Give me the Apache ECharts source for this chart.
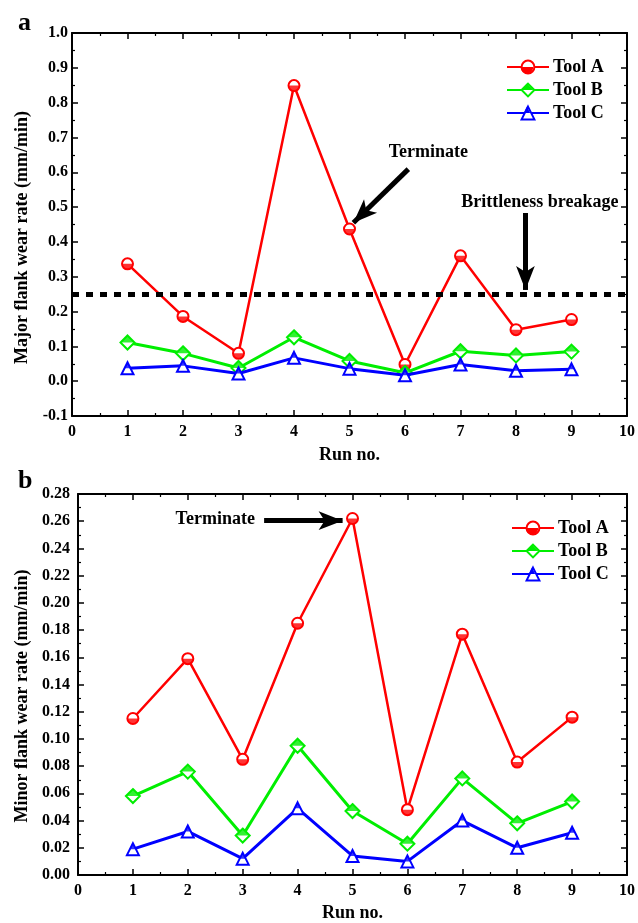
<!DOCTYPE html>
<html><head><meta charset="utf-8">
<script src="https://cdn.jsdelivr.net/npm/echarts@6/dist/echarts.min.js"></script>
<style>html,body{margin:0;padding:0;background:#fff}#c{width:638px;height:923px}</style>
</head><body><div id="c"></div>
<script>
// ---------- data ----------
const runs = [1, 2, 3, 4, 5, 6, 7, 8, 9];
const toolNames = ['Tool A', 'Tool B', 'Tool C'];
const majorA = [0.337, 0.186, 0.080, 0.849, 0.437, 0.048, 0.360, 0.148, 0.177];
const majorB = [0.111, 0.080, 0.038, 0.126, 0.058, 0.024, 0.086, 0.074, 0.085];
const majorC = [0.037, 0.044, 0.022, 0.067, 0.036, 0.017, 0.048, 0.030, 0.034];
const minorA = [0.115, 0.159, 0.085, 0.185, 0.262, 0.048, 0.177, 0.083, 0.116];
const minorB = [0.058, 0.076, 0.029, 0.095, 0.047, 0.023, 0.071, 0.038, 0.054];
const minorC = [0.019, 0.032, 0.012, 0.049, 0.014, 0.010, 0.040, 0.020, 0.031];
const brittleLimit = 0.254;
const panelLabels = ['a', 'b'];
const xAxisName = 'Run no.';
const yAxisNames = ['Major flank wear rate (mm/min)', 'Minor flank wear rate (mm/min)'];

// ---------- style ----------
const FONT = 'Liberation Serif';
const colors = ['#ff0000', '#00ee00', '#0000ff'];
const emptySymbols = ['emptyCircle', 'emptyDiamond', 'emptyTriangle'];
const fillSymbols = [
  'path://M0,10A10,10,0,0,0,20,10Z M10,0L10,0',
  'path://M0,10L10,0L20,10Z M10,20L10,20',
  'path://M10,0L15,10L5,10Z M0,20L20,20'
];
const symSizes = [11, 14, 12];
const lineWidths = [2.5, 3, 3];

const grids = [
  { left: 72, right: 11, top: 33, height: 383 },
  { left: 78, right: 4, top: 494, height: 383 }
];
const yCfg = [
  { min: -0.1, max: 1.0, interval: 0.1, dec: 1, labelMargin: 4, nameGap: 38, namePad: 26 },
  { min: 0, max: 0.28, interval: 0.02, dec: 2, labelMargin: 8, nameGap: 45, namePad: 23 }
];

const xAxes = [], yAxes = [], series = [];
const axisLine = { show: true, onZero: false, lineStyle: { color: '#000', width: 2 } };
const tick = { show: true, inside: true, length: 6, lineStyle: { color: '#000', width: 1.5 } };
const minor = { show: true, splitNumber: 2, length: 3, lineStyle: { color: '#000', width: 1.2 } };

[0, 1].forEach(g => {
  const yc = yCfg[g];
  xAxes.push({
    type: 'value', gridIndex: g, position: 'bottom', min: 0, max: 10, interval: 1,
    axisLine, axisTick: tick, minorTick: minor, splitLine: { show: false },
    axisLabel: { margin: 8, color: '#000', fontFamily: FONT, fontWeight: 'bold', fontSize: 16 },
    name: xAxisName, nameLocation: 'middle', nameGap: g === 0 ? 30 : 29,
    nameTextStyle: { color: '#000', fontFamily: FONT, fontWeight: 'bold', fontSize: 18 }
  });
  xAxes.push({
    type: 'value', gridIndex: g, position: 'top', min: 0, max: 10, interval: 1,
    axisLine, axisTick: tick, minorTick: minor, splitLine: { show: false }, axisLabel: { show: false }
  });
  yAxes.push({
    type: 'value', gridIndex: g, position: 'left', min: yc.min, max: yc.max, interval: yc.interval,
    axisLine, axisTick: tick, minorTick: minor, splitLine: { show: false },
    axisLabel: { margin: yc.labelMargin, color: '#000', fontFamily: FONT, fontWeight: 'bold', fontSize: 16,
      formatter: v => v.toFixed(yc.dec) },
    name: yAxisNames[g], nameLocation: 'middle', nameGap: yc.nameGap,
    nameTextStyle: { color: '#000', fontFamily: FONT, fontWeight: 'bold', fontSize: 18, padding: [0, yc.namePad, 0, 0] }
  });
  yAxes.push({
    type: 'value', gridIndex: g, position: 'right', min: yc.min, max: yc.max, interval: yc.interval,
    axisLine, axisTick: tick, minorTick: minor, splitLine: { show: false }, axisLabel: { show: false }
  });
});

const panelData = [[majorA, majorB, majorC], [minorA, minorB, minorC]];
const blackLine = { color: '#000', width: 5, type: 'solid', cap: 'butt' };

panelData.forEach((sets, g) => {
  sets.forEach((vals, i) => {
    const pts = runs.map((r, k) => [r, vals[k]]);
    const s = {
      type: 'line', name: toolNames[i], xAxisIndex: g * 2, yAxisIndex: g * 2,
      data: pts, symbol: emptySymbols[i], symbolSize: symSizes[i], showSymbol: true,
      lineStyle: { color: colors[i], width: lineWidths[i] },
      itemStyle: { color: colors[i], borderWidth: 1.5 },
      emphasis: { disabled: true }, z: 2 + i
    };
    if (i === 0 && g === 0) {
      s.markLine = {
        silent: true, symbol: ['none', 'none'], label: { show: false }, emphasis: { disabled: true },
        data: [
          { yAxis: brittleLimit, lineStyle: { color: '#000', width: 5, type: [7, 7], cap: 'butt' } },
          [ { coord: [6.06, 0.609], symbol: 'none' },
            { coord: [5.07, 0.455], symbol: 'arrow', symbolSize: [14, 24] } ],
          [ { coord: [8.17, 0.483], symbol: 'none' },
            { coord: [8.17, 0.262], symbol: 'arrow', symbolSize: [14, 24] } ]
        ],
        lineStyle: blackLine
      };
      s.markPoint = {
        silent: true, symbol: 'circle', symbolSize: 0,
        label: { show: true, position: 'inside', color: '#000', fontFamily: FONT, fontWeight: 'bold', fontSize: 18 },
        data: [
          { coord: [6.42, 0.656], value: 'Terminate', label: { formatter: 'Terminate' } },
          { coord: [8.43, 0.515], value: 'Brittleness breakage', label: { formatter: 'Brittleness breakage' } }
        ]
      };
    }
    if (i === 0 && g === 1) {
      s.markLine = {
        silent: true, symbol: ['none', 'none'], label: { show: false }, emphasis: { disabled: true },
        data: [
          [ { coord: [3.39, 0.2604], symbol: 'none' },
            { coord: [4.82, 0.2604], symbol: 'arrow', symbolSize: [14, 24] } ]
        ],
        lineStyle: blackLine
      };
      s.markPoint = {
        silent: true, symbol: 'circle', symbolSize: 0,
        label: { show: true, position: 'inside', color: '#000', fontFamily: FONT, fontWeight: 'bold', fontSize: 18 },
        data: [ { coord: [2.50, 0.2614], value: 'Terminate', label: { formatter: 'Terminate' } } ]
      };
    }
    series.push(s);
    series.push({
      type: 'scatter', name: toolNames[i] + ' fill ' + g, xAxisIndex: g * 2, yAxisIndex: g * 2,
      data: pts, symbol: fillSymbols[i], symbolSize: symSizes[i], silent: true,
      itemStyle: { color: colors[i], borderWidth: 0 }, emphasis: { disabled: true }, z: 2 + i
    });
  });
});

const legendPos = [ { left: 506, top: 58 }, { left: 511, top: 519 } ];
const legendItemH = 16;
const legends = legendPos.map(p => ({
  left: p.left, top: p.top, padding: 0, orient: 'vertical', itemWidth: 42, itemHeight: legendItemH, itemGap: 5,
  data: toolNames, selectedMode: false,
  textStyle: { color: '#000', fontFamily: FONT, fontWeight: 'bold', fontSize: 18, padding: [0, 0, 0, -1] }
}));

// half-fill overlays for the legend icons
const graphics = [];
legendPos.forEach(p => {
  const cx = p.left + 21, s = legendItemH * 0.8;
  [0, 1, 2].forEach(k => {
    const cy = p.top + 9 + k * 23;
    if (k === 0) graphics.push({ type: 'sector', z: 100, shape: { cx, cy, r: s / 2, r0: 0, startAngle: 0, endAngle: Math.PI }, style: { fill: colors[0] } });
    if (k === 1) graphics.push({ type: 'polygon', z: 100, shape: { points: [[cx - s / 2, cy], [cx, cy - s / 2], [cx + s / 2, cy]] }, style: { fill: colors[1] } });
    if (k === 2) graphics.push({ type: 'polygon', z: 100, shape: { points: [[cx, cy - s / 2], [cx + s / 4, cy], [cx - s / 4, cy]] }, style: { fill: colors[2] } });
  });
});

const chart = echarts.init(document.getElementById('c'), null, { renderer: 'canvas' });
chart.setOption({
  backgroundColor: '#fff',
  animation: false,
  title: [
    { text: panelLabels[0], left: 13, top: 5, textStyle: { fontFamily: FONT, fontWeight: 'bold', fontSize: 26, color: '#000' } },
    { text: panelLabels[1], left: 13, top: 463, textStyle: { fontFamily: FONT, fontWeight: 'bold', fontSize: 26, color: '#000' } }
  ],
  grid: grids,
  xAxis: xAxes,
  yAxis: yAxes,
  legend: legends,
  graphic: graphics,
  series
});
</script></body></html>
